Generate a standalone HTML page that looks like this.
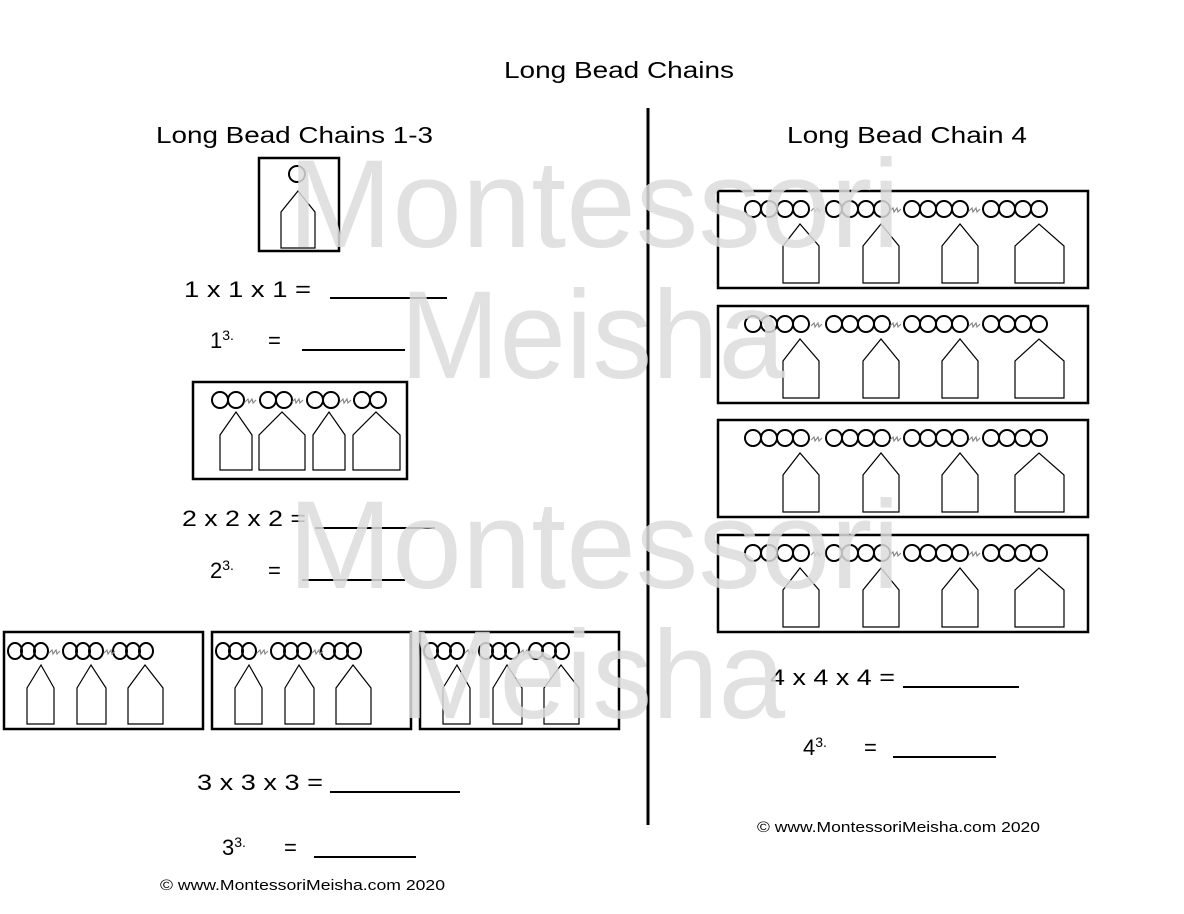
<!DOCTYPE html>
<html><head><meta charset="utf-8"><style>
body{margin:0;background:#fff;width:1184px;height:914px;overflow:hidden}
svg{display:block}
text{font-family:"Liberation Sans",sans-serif;fill:#000}
</style></head><body>
<svg width="1184" height="914" viewBox="0 0 1184 914" xmlns="http://www.w3.org/2000/svg">
<defs>
<g id="z"><path d="M0 0 l3 -3 l1 4 l3 -4 l1 4 l3 -3" fill="none" stroke="#888" stroke-width="1.2"/></g>
</defs>
<text x="504" y="78" font-size="23" textLength="230" lengthAdjust="spacingAndGlyphs">Long Bead Chains</text>
<line x1="648" y1="108" x2="648" y2="825" stroke="#000" stroke-width="3"/>
<text x="156" y="143" font-size="23" textLength="277" lengthAdjust="spacingAndGlyphs">Long Bead Chains 1-3</text>
<text x="787" y="143" font-size="23" textLength="240" lengthAdjust="spacingAndGlyphs">Long Bead Chain 4</text>

<g fill="none" stroke="#000" stroke-width="1.2">
<rect x="259" y="158" width="80" height="93" stroke-width="2.5"/>
<circle cx="297" cy="174" r="8" stroke-width="2"/>
<path d="M281 248 V212 L298 191 L315 212 V248 Z"/>
<rect x="193" y="382" width="214" height="97" stroke-width="2.5"/>
<g stroke-width="2">
<circle cx="220" cy="400" r="8"/><circle cx="236" cy="400" r="8"/>
<circle cx="268" cy="400" r="8"/><circle cx="284" cy="400" r="8"/>
<circle cx="315" cy="400" r="8"/><circle cx="331" cy="400" r="8"/>
<circle cx="362" cy="400" r="8"/><circle cx="378" cy="400" r="8"/>
</g>
<use href="#z" x="245" y="402"/><use href="#z" x="292" y="402"/><use href="#z" x="340" y="402"/>
<path d="M220 470 V435 L236 412 L252 435 V470 Z"/>
<path d="M259 470 V435 L282 412 L305 435 V470 Z"/>
<path d="M313 470 V435 L329 412 L345 435 V470 Z"/>
<path d="M353 470 V435 L376 412 L400 435 V470 Z"/>
</g>

<g fill="none" stroke="#000" stroke-width="1.2">
<g id="b3">
<rect x="4" y="632" width="199" height="97" stroke-width="2.5"/>
<g stroke-width="2">
<ellipse cx="15" cy="651" rx="7" ry="8"/><ellipse cx="28" cy="651" rx="7" ry="8"/><ellipse cx="41" cy="651" rx="7" ry="8"/>
<ellipse cx="70" cy="651" rx="7" ry="8"/><ellipse cx="83" cy="651" rx="7" ry="8"/><ellipse cx="96" cy="651" rx="7" ry="8"/>
<ellipse cx="120" cy="651" rx="7" ry="8"/><ellipse cx="133" cy="651" rx="7" ry="8"/><ellipse cx="146" cy="651" rx="7" ry="8"/>
</g>
<use href="#z" x="49" y="653"/><use href="#z" x="104" y="653"/>
<path d="M27 724 V688 L41 665 L54 688 V724 Z"/>
<path d="M77 724 V688 L91 665 L106 688 V724 Z"/>
<path d="M128 724 V688 L145 665 L163 688 V724 Z"/>
</g>
<use href="#b3" x="208"/>
<use href="#b3" x="416"/>
</g>

<g fill="none" stroke="#000" stroke-width="1.2">
<g id="b4">
<rect x="718" y="191" width="370" height="97" stroke-width="2.5"/>
<g stroke-width="2">
<circle cx="753" cy="209" r="8"/><circle cx="769" cy="209" r="8"/><circle cx="785" cy="209" r="8"/><circle cx="801" cy="209" r="8"/>
<circle cx="834" cy="209" r="8"/><circle cx="850" cy="209" r="8"/><circle cx="866" cy="209" r="8"/><circle cx="882" cy="209" r="8"/>
<circle cx="912" cy="209" r="8"/><circle cx="928" cy="209" r="8"/><circle cx="944" cy="209" r="8"/><circle cx="960" cy="209" r="8"/>
<circle cx="991" cy="209" r="8"/><circle cx="1007" cy="209" r="8"/><circle cx="1023" cy="209" r="8"/><circle cx="1039" cy="209" r="8"/>
</g>
<use href="#z" x="811" y="211"/><use href="#z" x="890" y="211"/><use href="#z" x="969" y="211"/>
<path d="M783 283 V246 L800 224 L819 246 V283 Z"/>
<path d="M863 283 V246 L881 224 L899 246 V283 Z"/>
<path d="M942 283 V246 L960 224 L978 246 V283 Z"/>
<path d="M1015 283 V246 L1039 224 L1064 246 V283 Z"/>
</g>
<use href="#b4" y="115"/>
<use href="#b4" y="229"/>
<use href="#b4" y="344"/>
</g>

<g font-size="22">
<text x="184" y="297" textLength="127" lengthAdjust="spacingAndGlyphs">1 x 1 x 1 =</text>
<text x="210" y="348">1<tspan font-size="14" dy="-8">3.</tspan><tspan dy="8" dx="34">=</tspan></text>
<text x="182" y="526" textLength="124" lengthAdjust="spacingAndGlyphs">2 x 2 x 2 =</text>
<text x="210" y="578">2<tspan font-size="14" dy="-8">3.</tspan><tspan dy="8" dx="34">=</tspan></text>
<text x="197" y="790" textLength="126" lengthAdjust="spacingAndGlyphs">3 x 3 x 3 =</text>
<text x="222" y="855">3<tspan font-size="14" dy="-8">3.</tspan><tspan dy="8" dx="38">=</tspan></text>
<text x="770" y="685" textLength="125" lengthAdjust="spacingAndGlyphs">4 x 4 x 4 =</text>
<text x="803" y="755">4<tspan font-size="14" dy="-8">3.</tspan><tspan dy="8" dx="37">=</tspan></text>
</g>
<g stroke="#000" stroke-width="2">
<line x1="330" y1="298" x2="447" y2="298"/>
<line x1="302" y1="350" x2="405" y2="350"/>
<line x1="315" y1="528" x2="435" y2="528"/>
<line x1="302" y1="580" x2="405" y2="580"/>
<line x1="330" y1="792" x2="460" y2="792"/>
<line x1="314" y1="857" x2="416" y2="857"/>
<line x1="903" y1="687" x2="1019" y2="687"/>
<line x1="893" y1="757" x2="996" y2="757"/>
</g>
<text x="160" y="890" font-size="15" textLength="285" lengthAdjust="spacingAndGlyphs">©  www.MontessoriMeisha.com  2020</text>
<text x="757" y="832" font-size="15" textLength="283" lengthAdjust="spacingAndGlyphs">©  www.MontessoriMeisha.com  2020</text>

<g font-size="125" style="font-family:'Liberation Sans',sans-serif">
<text x="288" y="247" textLength="612" lengthAdjust="spacingAndGlyphs" style="fill:#dcdcdc;fill-opacity:0.85">Montessori</text>
<text x="400" y="378" textLength="385" lengthAdjust="spacingAndGlyphs" style="fill:#dcdcdc;fill-opacity:0.85">Meisha</text>
<text x="288" y="588" textLength="612" lengthAdjust="spacingAndGlyphs" style="fill:#dcdcdc;fill-opacity:0.85">Montessori</text>
<text x="400" y="718" textLength="385" lengthAdjust="spacingAndGlyphs" style="fill:#dcdcdc;fill-opacity:0.85">Meisha</text>
</g>
</svg>
</body></html>
